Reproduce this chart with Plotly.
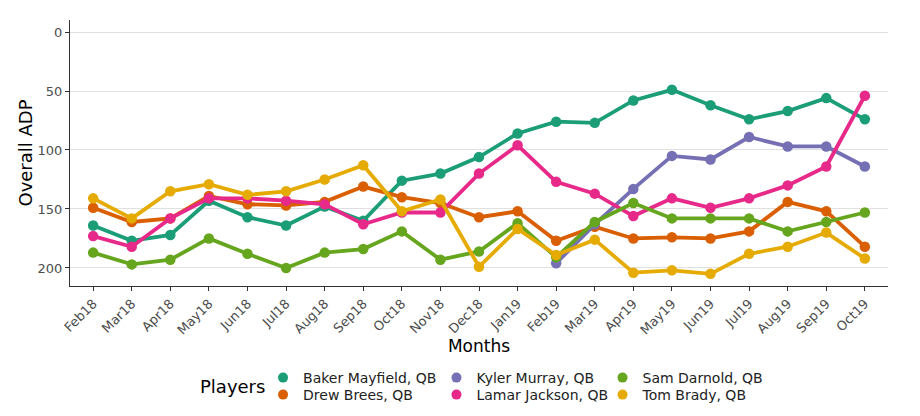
import plotly.graph_objects as go

months = ["Feb18","Mar18","Apr18","May18","Jun18","Jul18","Aug18","Sep18","Oct18","Nov18",
          "Dec18","Jan19","Feb19","Mar19","Apr19","May19","Jun19","Jul19","Aug19","Sep19","Oct19"]

baker_mayfield = [164,177,172,143,157,164,148,160,126,120,106,86,76,77,58,49,62,74,67,56,74]
drew_brees     = [149,161,158,139,146,147,144,131,140,145,157,152,177,165,175,174,175,169,144,152,182]
kyler_murray   = [None]*12 + [196,163,133,105,108,89,97,97,114]
lamar_jackson  = [173,182,158,141,141,143,146,163,153,153,120,96,127,137,156,141,149,141,130,114,54]
sam_darnold    = [187,197,193,175,188,200,187,184,169,193,186,162,191,161,145,158,158,158,169,161,153]
tom_brady      = [141,158,135,129,138,135,125,113,152,142,199,167,189,176,204,202,205,188,182,170,192]

players = ["Baker Mayfield, QB", "Drew Brees, QB", "Kyler Murray, QB",
           "Lamar Jackson, QB", "Sam Darnold, QB", "Tom Brady, QB"]
values = [baker_mayfield, drew_brees, kyler_murray, lamar_jackson, sam_darnold, tom_brady]
colors = ["#1B9E77", "#D95F02", "#7570B3", "#E7298A", "#66A61E", "#E6AB02"]

fig = go.Figure()
for name, vals, col in zip(players, values, colors):
    fig.add_trace(go.Scatter(
        x=months, y=vals, name=name, mode="lines+markers",
        line=dict(color=col, width=3.8),
        marker=dict(color=col, size=10.5),
        showlegend=False, hoverinfo="x+y+name",
    ))

# legend key: one small legend per entry, laid out in 3 columns x 2 rows
col_x = [0.236, 0.448, 0.651]
row_y = [-0.2857, -0.3496]
legend_layout = {}
for i, (name, col) in enumerate(zip(players, colors)):
    lid = "legend" if i == 0 else f"legend{i + 1}"
    fig.add_trace(go.Scatter(
        x=[None], y=[None], name=name, mode="markers",
        marker=dict(color=col, size=10), legend=lid, showlegend=True,
    ))
    legend_layout[lid] = dict(
        orientation="v", yanchor="top", xanchor="left",
        x=col_x[i // 2], y=row_y[i % 2],
        font=dict(size=14, color="#222", family="DejaVu Sans"),
        itemwidth=30, bgcolor="rgba(0,0,0,0)",
    )

# page body has an 8px default margin, so the figure is sized to fit the window
fig.update_layout(
    width=912, height=408,
    margin=dict(l=62, r=32, t=12, b=130, autoexpand=False),
    paper_bgcolor="white", plot_bgcolor="white",
    font=dict(family="DejaVu Sans", color="#000000"),
    annotations=[dict(text="Players", xref="paper", yref="paper", x=(232-70)/818,
                      y=(286-386)/266, xanchor="center", yanchor="middle",
                      showarrow=False, font=dict(size=18, color="#000"))],
    **legend_layout,
)
fig.update_xaxes(
    range=[-0.6, 20.6], automargin=False,
    tickangle=-45, tickfont=dict(size=13, color="#4d4d4d"),
    title=dict(text="Months", font=dict(size=17, color="#000"), standoff=1),
    showline=True, linecolor="#333", linewidth=1,
    ticks="outside", ticklen=4, tickcolor="#333",
    showgrid=False, zeroline=False,
)
fig.update_yaxes(
    range=[215.3, -10.2], automargin=False,
    tickvals=[0, 50, 100, 150, 200],
    tickfont=dict(size=13, color="#4d4d4d"),
    title=dict(text="Overall ADP", font=dict(size=18, color="#000"), standoff=0),
    showline=True, linecolor="#333", linewidth=1,
    ticks="outside", ticklen=4, tickcolor="#333",
    showgrid=True, gridcolor="#e0e0e0", gridwidth=1, zeroline=False,
)

fig.write_html("out.html")
